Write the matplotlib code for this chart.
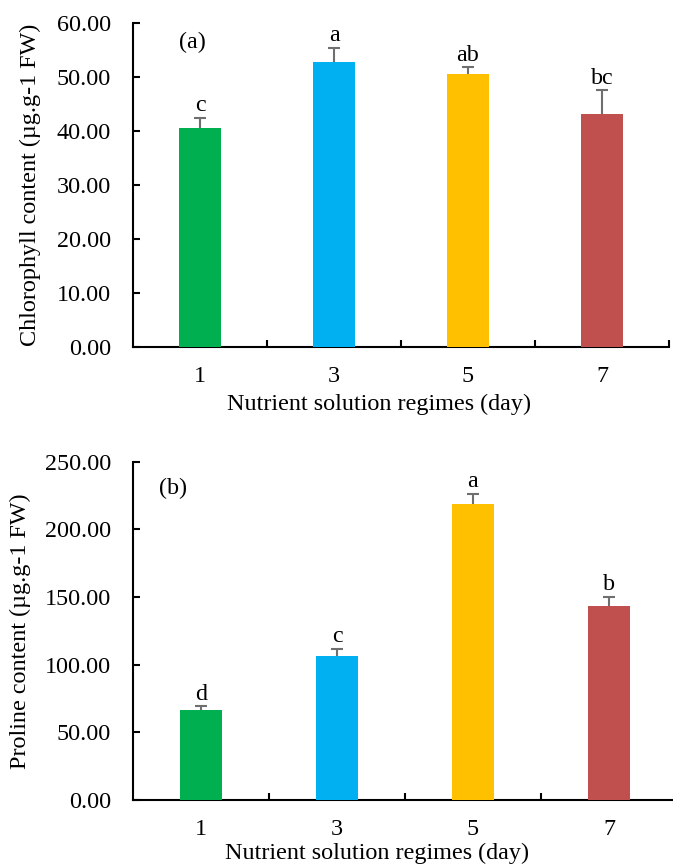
import numpy as np
import matplotlib.pyplot as plt

plt.rcParams['font.family'] = ['Liberation Serif', 'DejaVu Serif']

days = ['1', '3', '5', '7']
colors = ['#00B050', '#00B0F0', '#FFC000', '#C0504D']

chl = [40.6, 52.9, 50.6, 43.2]
chl_err = [1.9, 2.6, 1.3, 4.4]
chl_letters = ['c', 'a', 'ab', 'bc']

pro = [66.3, 106.1, 218.9, 143.7]
pro_err = [3.2, 5.7, 7.6, 6.4]
pro_letters = ['d', 'c', 'a', 'b']

W, H = 673, 868
FS = 17.4
fig = plt.figure(figsize=(W / 100, H / 100), dpi=100)


def px_axes(left, right, top, bottom):
    return fig.add_axes([left / W, 1 - bottom / H, (right - left) / W, (bottom - top) / H])


def panel(ax, vals, errs, letters, ymax, step, ylabel, tag, tag_xy):
    x = np.arange(len(vals))
    ax.bar(x, vals, width=0.315, color=colors, zorder=3)
    eb = ax.errorbar(x, vals, yerr=[np.zeros(len(errs)), errs], fmt='none',
                     ecolor='#6f6f6f', elinewidth=1.5, capsize=4.5, capthick=1.5, zorder=2)
    # only the upper cap is shown
    eb[1][0].set_visible(False)
    for xi, v, e, t in zip(x, vals, errs, letters):
        ax.annotate(t, (xi, v + e), xytext=(0, 1), textcoords='offset points',
                    ha='center', va='bottom', fontsize=FS)
    ax.set_xlim(-0.5, len(vals) - 0.5)
    ax.set_ylim(0, ymax)
    ticks = np.arange(0, ymax + step / 2, step)
    ax.set_yticks(ticks)
    ax.set_yticklabels(['%.2f' % v for v in ticks])
    ax.set_xticks(x)
    ax.set_xticklabels(days)
    ax.set_xticks(np.arange(0.5, len(vals) - 0.4, 1.0), minor=True)
    ax.tick_params(axis='x', which='major', length=0, labelsize=FS, pad=14)
    ax.tick_params(axis='x', which='minor', direction='in', length=5, width=1.5)
    ax.tick_params(axis='y', direction='in', length=5, width=1.5, labelsize=FS, pad=16)
    for s in ['top', 'right']:
        ax.spines[s].set_visible(False)
    for s in ['left', 'bottom']:
        ax.spines[s].set_linewidth(1.5)
    ax.set_xlabel('Nutrient solution regimes (day)', fontsize=FS)
    ax.set_ylabel(ylabel, fontsize=FS)
    ax.text(tag_xy[0], tag_xy[1], tag, transform=ax.transAxes, fontsize=FS,
            ha='left', va='center')


ax1 = px_axes(133, 669, 23.3, 346.7)
panel(ax1, chl, chl_err, chl_letters, 60, 10,
      'Chlorophyll content (\u00b5g.g-1 FW)', '(a)', (0.085, 0.94))
ax1.yaxis.set_label_coords(-0.172, 0.5)
ax1.xaxis.set_label_coords(0.459, -0.145)

ax2 = px_axes(133, 677, 461.7, 800)
panel(ax2, pro, pro_err, pro_letters, 250, 50,
      'Proline content (\u00b5g.g-1 FW)', '(b)', (0.047, 0.92))
ax2.yaxis.set_label_coords(-0.1875, 0.5)
ax2.xaxis.set_label_coords(0.449, -0.128)

fig.savefig('out.png', dpi=100)
